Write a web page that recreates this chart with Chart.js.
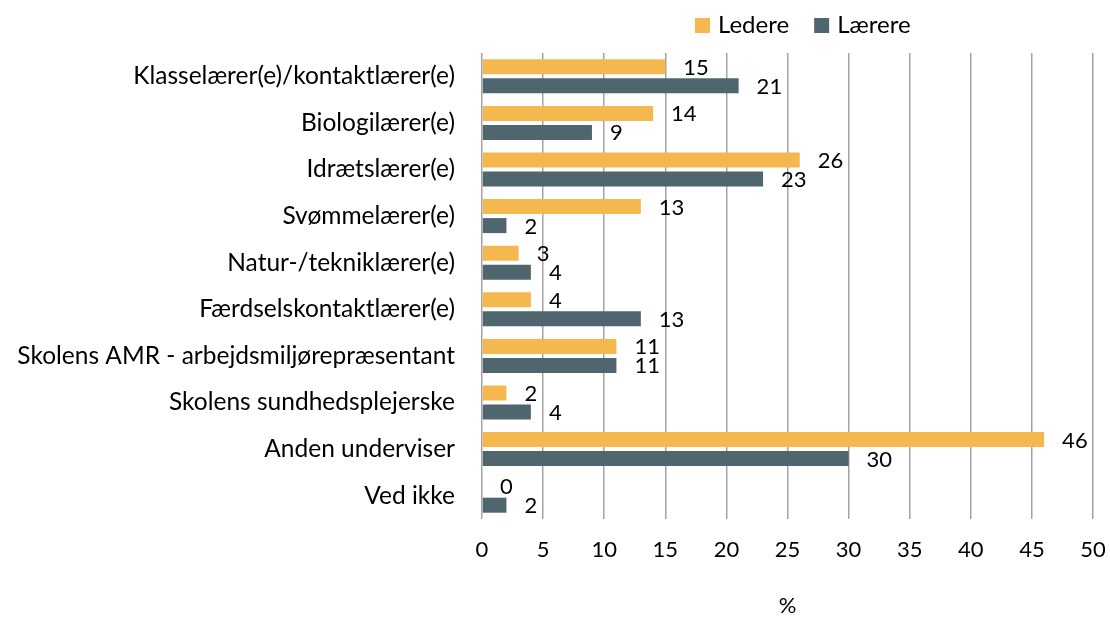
<!DOCTYPE html>
<html>
<head>
<meta charset="utf-8">
<script src="https://cdn.jsdelivr.net/npm/chart.js@4/dist/chart.umd.min.js"></script>
<style>
  html, body { margin: 0; padding: 0; background: #fff; }
  #wrap { width: 1110px; height: 617px; }
</style>
</head>
<body>
<div id="wrap"><canvas id="chart"></canvas></div>
<script>
// roles asked about in the survey
const categories = [
    "Klasselærer(e)/kontaktlærer(e)",
    "Biologilærer(e)",
    "Idrætslærer(e)",
    "Svømmelærer(e)",
    "Natur-/tekniklærer(e)",
    "Færdselskontaktlærer(e)",
    "Skolens AMR - arbejdsmiljørepræsentant",
    "Skolens sundhedsplejerske",
    "Anden underviser",
    "Ved ikke"
];
const seriesNames = ["Ledere", "Lærere"];
const ledere = [15, 14, 26, 13, 3, 4, 11, 2, 46, 0];
const laerere = [21, 9, 23, 2, 4, 13, 11, 4, 30, 2];
const xMax = 50;
const xStep = 5;
const xTitle = "%";

const FONT = "Lato, 'Open Sans', sans-serif";
const colors = ["#f4b84f", "#50666f"];

// value labels to the right of every bar
const valueLabels = {
    id: "valueLabels",
    afterDatasetsDraw(chart) {
        const ctx = chart.ctx;
        ctx.save();
        ctx.font = "22px " + FONT;
        ctx.fillStyle = "#000";
        ctx.textAlign = "left";
        ctx.textBaseline = "middle";
        chart.data.datasets.forEach((ds, i) => {
            chart.getDatasetMeta(i).data.forEach((bar, j) => {
                ctx.fillText(String(ds.data[j]), bar.x + 18, bar.y + 1);
            });
        });
        ctx.restore();
    }
};

// simple legend in the top right, like the original
const topLegend = {
    id: "topLegend",
    afterDraw(chart) {
        const ctx = chart.ctx;
        ctx.save();
        ctx.font = "24px " + FONT;
        ctx.textBaseline = "middle";
        ctx.textAlign = "left";
        let x = 695;
        const y = 25;
        chart.data.datasets.forEach(ds => {
            ctx.fillStyle = ds.backgroundColor;
            ctx.fillRect(x, y - 7, 15, 15);
            ctx.fillStyle = "#000";
            ctx.fillText(ds.label, x + 23, y);
            x += 23 + ctx.measureText(ds.label).width + 25;
        });
        ctx.restore();
    }
};

new Chart(document.getElementById("chart"), {
    type: "bar",
    data: {
        labels: categories,
        datasets: [
            { label: seriesNames[0], data: ledere, backgroundColor: colors[0] },
            { label: seriesNames[1], data: laerere, backgroundColor: colors[1] }
        ]
    },
    options: {
        indexAxis: "y",
        responsive: true,
        maintainAspectRatio: false,
        animation: false,
        categoryPercentage: 0.815,
        barPercentage: 0.79,
        layout: { padding: { top: 53, right: 17, bottom: 0, left: 0 } },
        scales: {
            x: {
                min: 0,
                max: xMax,
                ticks: { stepSize: xStep, color: "#000", font: { family: FONT, size: 22 }, padding: 0 },
                grid: { color: "#a3a3a3", lineWidth: 1.5, drawTicks: true, tickLength: 18, tickColor: "rgba(0,0,0,0)" },
                border: { display: false },
                title: { display: true, text: xTitle, color: "#000", font: { family: FONT, size: 22 }, padding: { top: 0, bottom: -2 } },
                afterFit: (scale) => { scale.height = 98; }
            },
            y: {
                grid: { display: false, drawTicks: false },
                border: { display: false },
                ticks: { color: "#000", font: { family: FONT, size: 24.5 }, padding: 27, autoSkip: false },
                afterFit: (scale) => { scale.width = 482; }
            }
        },
        plugins: {
            legend: { display: false },
            tooltip: { enabled: false }
        }
    },
    plugins: [valueLabels, topLegend]
});
</script>
</body>
</html>
